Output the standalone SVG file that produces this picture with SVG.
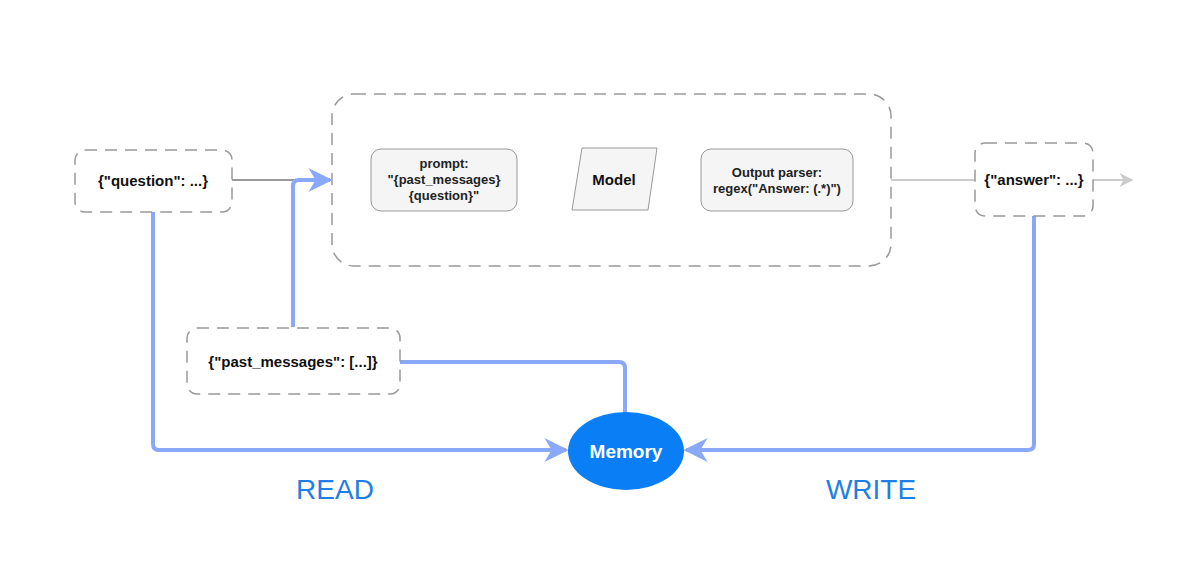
<svg xmlns="http://www.w3.org/2000/svg" width="1201" height="566" viewBox="0 0 1201 566">
<style>
.dash{fill:#fff;stroke:#999;stroke-width:1.5;stroke-dasharray:12 8}
.inner{fill:#f5f5f5;stroke:#999;stroke-width:1}
.t{font-family:"Liberation Sans",Arial,sans-serif;font-weight:bold;font-size:13px;fill:#222;text-anchor:middle}
.tb{font-family:"Liberation Sans",Arial,sans-serif;font-weight:bold;font-size:15px;fill:#111;text-anchor:middle}
.blue{fill:none;stroke:#8aa8f8;stroke-width:4;stroke-linejoin:round}
.lbl{font-family:"Liberation Sans",Arial,sans-serif;font-size:28px;fill:#1f7fe6;text-anchor:middle}
</style>
<defs>
<marker id="abl" viewBox="0 0 10 10" refX="9" refY="5" markerWidth="24" markerHeight="24" markerUnits="userSpaceOnUse" orient="auto">
<path d="M0,0 L10,5 L0,10 L3,5 Z" fill="#8aa8f8"/>
</marker>
<marker id="ag" viewBox="0 0 10 10" refX="9" refY="5" markerWidth="14" markerHeight="14" markerUnits="userSpaceOnUse" orient="auto">
<path d="M0,0 L10,5 L0,10 L3,5 Z" fill="#cccccc"/>
</marker>
</defs>
<g id="container">
<rect class="dash" x="332" y="94" width="559" height="172" rx="22"/>
</g>
<g id="connectors">
<path d="M232,180 L330,180" stroke="#999" stroke-width="2" fill="none"/>
<path d="M891,180 L975,180" stroke="#ccc" stroke-width="2" fill="none"/>
<path d="M1093,180 L1132,180" stroke="#ccc" stroke-width="2" fill="none" marker-end="url(#ag)"/>
<path class="blue" d="M293,327 L293,186 Q293,180 299,180 L330,180" marker-end="url(#abl)"/>
<path class="blue" d="M153,212 L153,444 Q153,450 159,450 L566,450" marker-end="url(#abl)"/>
<path class="blue" d="M400,362 L619,362 Q625,362 625,368 L625,413"/>
<path class="blue" d="M1034,216 L1034,444 Q1034,450 1028,450 L686,450" marker-end="url(#abl)"/>
</g>
<g id="question">
<rect class="dash" x="75" y="150" width="157" height="62" rx="10"/>
<text class="tb" x="153" y="186">{"question": ...}</text>
</g>
<g id="prompt">
<rect class="inner" x="371" y="149" width="146" height="62" rx="10"/>
<text class="t" x="444" y="168">prompt:</text>
<text class="t" x="444" y="184">"{past_messages}</text>
<text class="t" x="444" y="200">{question}"</text>
</g>
<g id="model">
<polygon class="inner" points="582,148 657,148 648,210 572,210"/>
<text class="tb" x="614" y="185">Model</text>
</g>
<g id="parser">
<rect class="inner" x="701" y="149" width="152" height="62" rx="10"/>
<text class="t" x="777" y="177">Output parser:</text>
<text class="t" x="777" y="193">regex("Answer: (.*)")</text>
</g>
<g id="answer">
<rect class="dash" x="975" y="143" width="118" height="73" rx="10"/>
<text class="tb" x="1034" y="185">{"answer": ...}</text>
</g>
<g id="past_messages">
<rect class="dash" x="187" y="328" width="213" height="66" rx="10"/>
<text class="tb" x="293" y="367">{"past_messages": [...]}</text>
</g>
<g id="memory">
<ellipse cx="626" cy="451" rx="58" ry="39" fill="#0a7ff5"/>
<text x="626" y="458" font-family="Liberation Sans,Arial,sans-serif" font-weight="bold" font-size="19" fill="#fff" text-anchor="middle">Memory</text>
</g>
<text class="lbl" x="335" y="499">READ</text>
<text class="lbl" x="871" y="499">WRITE</text>
</svg>
